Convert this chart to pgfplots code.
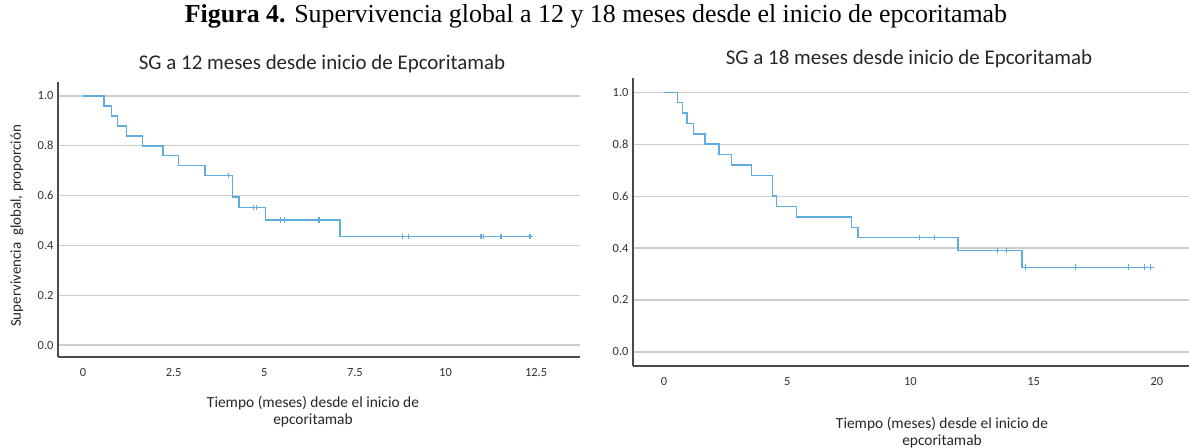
\documentclass[border=0pt]{standalone}
\usepackage{pgfplots}
\pgfplotsset{compat=1.18}
\usepackage{fontspec}
\setmainfont{Carlito}
\newfontfamily\capfont{Liberation Serif}
\definecolor{kmblue}{RGB}{95,172,222}
\definecolor{gridgray}{RGB}{205,205,205}
\definecolor{axgray}{RGB}{75,75,75}
\definecolor{txtgray}{RGB}{50,50,50}
\pgfplotsset{
  kmaxis/.style={
    scale only axis,
    anchor=south west,
    axis lines*=left,
    axis line style={draw=axgray, line width=1.7bp, -},
    ymajorgrids,
    grid style={draw=gridgray, line width=1.3bp},
    major tick length=0pt,
    tick style={draw=none},
    ytick={0,0.2,0.4,0.6,0.8,1.0},
    yticklabels={0.0,0.2,0.4,0.6,0.8,1.0},
    tick label style={font=\fontsize{12.5}{14}\selectfont, text=txtgray},
    /pgf/number format/assume math mode=true,
    xticklabel style={yshift=-8bp},
    yticklabel style={xshift=-1bp},
    clip=false,
  },
  kmline/.style={color=kmblue, line width=1.5bp, const plot, mark=none},
  kmcens/.style={color=kmblue, line width=1.1bp, only marks, mark=+, mark size=2.8bp},
}
\begin{document}
\begin{tikzpicture}[x=1bp,y=1bp]
\useasboundingbox (0,0) rectangle (1189,448);
% caption
\node[anchor=base, font=\capfont\fontsize{26}{29}\selectfont] at (596,425) {\textbf{Figura 4.} Supervivencia global a 12 y 18 meses desde el inicio de epcoritamab};
% titles
\node[anchor=base, font=\fontsize{21}{25}\selectfont, text=black!85] at (322,378) {SG a 12 meses desde inicio de Epcoritamab};
\node[anchor=base, font=\fontsize{21}{25}\selectfont, text=black!85] at (909,383) {SG a 18 meses desde inicio de Epcoritamab};
% y label
\node[rotate=90, font=\fontsize{15}{18}\selectfont, text=black!85] at (17,222) {Supervivencia\ \ global, proporción};
% x labels
\node[align=center, font=\fontsize{15.5}{17}\selectfont, text=black!85] at (313,36) {Tiempo (meses) desde el inicio de\\epcoritamab};
\node[align=center, font=\fontsize{15.5}{17}\selectfont, text=black!85] at (942,15) {Tiempo (meses) desde el inicio de\\epcoritamab};

\begin{axis}[kmaxis,
  at={(58bp,91bp)}, width=522bp, height=275bp,
  xmin=-0.69, xmax=13.71, ymin=-0.048, ymax=1.056,
  xtick={0,2.5,5,7.5,10,12.5},
  xticklabels={0,2.5,5,7.5,10,12.5},
]
\addplot[kmline] coordinates {
(0,1) (0.58,0.96) (0.79,0.92) (0.95,0.88) (1.20,0.84) (1.64,0.80) (2.20,0.76)
(2.63,0.72) (3.37,0.68) (4.12,0.595) (4.30,0.5525) (5.04,0.502) (7.09,0.435) (12.33,0.435)
};
\addplot[kmcens] coordinates {
(4.01,0.68) (4.70,0.5525) (4.79,0.5525) (5.44,0.502) (5.55,0.502) (6.51,0.502)
(8.81,0.435) (8.98,0.435) (10.98,0.435) (11.05,0.435) (11.53,0.435) (12.33,0.435)
};
\end{axis}

\begin{axis}[kmaxis,
  at={(633bp,82.3bp)}, width=556bp, height=287.4bp,
  xmin=-1.255, xmax=21.3, ymin=-0.053, ymax=1.054,
  xtick={0,5,10,15,20},
  xticklabels={0,5,10,15,20},
]
\addplot[kmline] coordinates {
(0,1) (0.54,0.96) (0.76,0.92) (0.94,0.88) (1.19,0.84) (1.67,0.80) (2.24,0.76)
(2.74,0.72) (3.55,0.68) (4.40,0.60) (4.56,0.56) (5.37,0.52) (7.60,0.48) (7.87,0.44)
(11.92,0.391) (14.53,0.326) (19.75,0.326)
};
\addplot[kmcens] coordinates {
(10.36,0.44) (10.97,0.44) (13.54,0.391) (13.91,0.391)
(14.65,0.326) (16.70,0.326) (18.85,0.326) (19.50,0.326) (19.75,0.326)
};
\end{axis}
\end{tikzpicture}
\end{document}
